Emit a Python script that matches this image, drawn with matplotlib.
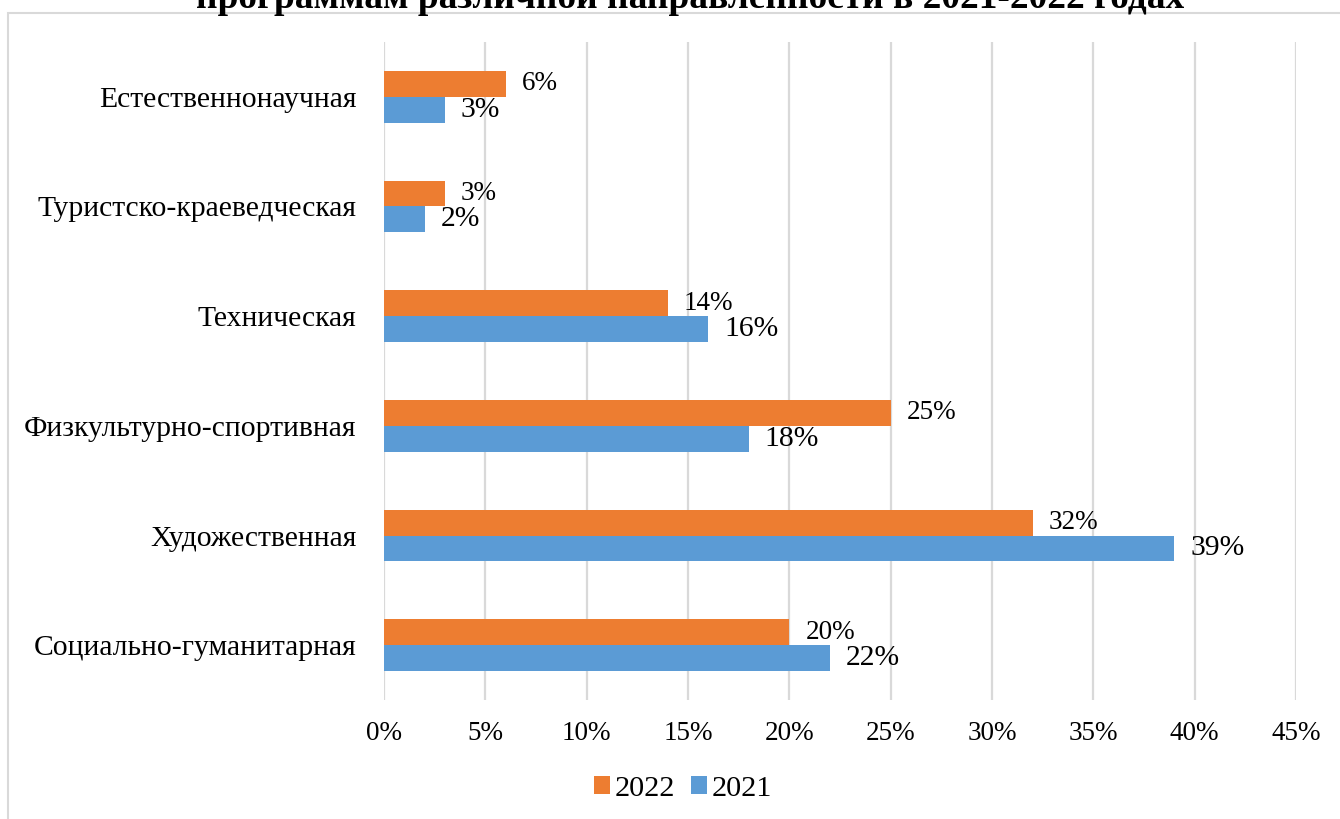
import matplotlib.pyplot as plt
from matplotlib.patches import Rectangle

# Data (percent)
categories = ['Социально-гуманитарная', 'Художественная', 'Физкультурно-спортивная',
              'Техническая', 'Туристско-краеведческая', 'Естественнонаучная']
values_2022 = [20, 32, 25, 14, 3, 6]
values_2021 = [22, 39, 18, 16, 2, 3]
xticks = [0, 5, 10, 15, 20, 25, 30, 35, 40, 45]

orange = '#ED7D31'
blue = '#5B9BD5'
grid_c = '#D9D9D9'

plt.rcParams['font.family'] = ['Liberation Serif', 'DejaVu Serif']

fig = plt.figure(figsize=(13.4, 8.19), dpi=100)
ax = fig.add_axes([384 / 1340, 1 - 700 / 819, (1296 - 384) / 1340, (700 - 42) / 819])

h = 0.237
pos = list(range(len(categories)))
b22 = ax.barh([p + h / 2 for p in pos], values_2022, height=h, color=orange, label='2022', zorder=3)
b21 = ax.barh([p - h / 2 for p in pos], values_2021, height=h, color=blue, label='2021', zorder=3)

for p, v in zip(pos, values_2022):
    ax.annotate(f'{v}%', (v, p + h / 2), xytext=(11.5, 0), textcoords='offset points',
                va='center', ha='left', fontsize=19.5)
for p, v in zip(pos, values_2021):
    ax.annotate(f'{v}%', (v, p - h / 2), xytext=(11.5, 0), textcoords='offset points',
                va='center', ha='left', fontsize=21.3)

ax.set_xlim(0, 45)
ax.set_ylim(-0.5, 5.5)
ax.set_xticks(xticks)
ax.set_xticklabels([f'{t}%' for t in xticks])
ax.set_yticks(pos)
ax.set_yticklabels(categories)
ax.tick_params(axis='x', length=0, pad=15, labelsize=19.5)
ax.tick_params(axis='y', length=0, pad=20, labelsize=21.3)
ax.grid(axis='x', color=grid_c, lw=1.6, zorder=0)
for s in ax.spines.values():
    s.set_visible(False)

fig.legend(handles=[b22, b21], labels=['2022', '2021'], loc='center',
           bbox_to_anchor=(683 / 1340, 1 - 789 / 819), ncol=2, frameon=False,
           fontsize=21.8, handlelength=0.52, handleheight=0.52, handletextpad=0.15,
           columnspacing=0.55)

# outer chart border (cut by the image edges)
fig.add_artist(Rectangle((8 / 1340, -0.1), 2, 1 - 13 / 819 + 0.1, transform=fig.transFigure,
                         fill=False, edgecolor=grid_c, lw=1.5))

# title, mostly cut off at the top
fig.text(0.515, 1 - 8 / 819, 'программам различной направленности в 2021-2022 годах',
         ha='center', va='baseline', fontsize=26.9, fontweight='bold')

fig.savefig('out.png', dpi=100)
